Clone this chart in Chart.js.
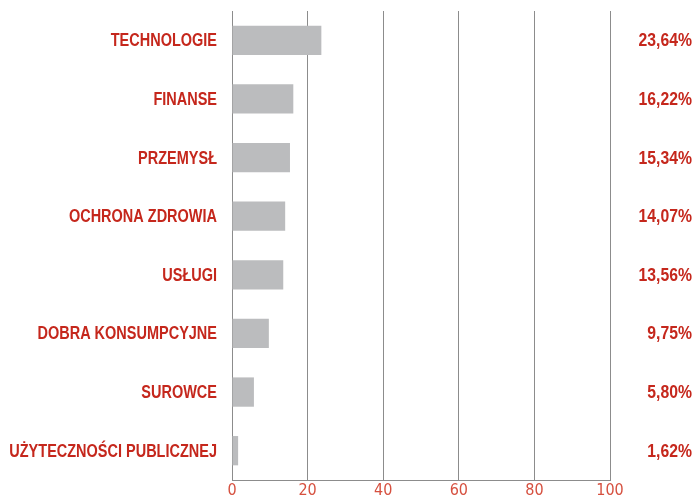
<!DOCTYPE html>
<html>
<head>
<meta charset="utf-8">
<script src="https://cdn.jsdelivr.net/npm/chart.js@4/dist/chart.umd.min.js"></script>
<style>
  html, body { margin: 0; padding: 0; background: #fff; }
  #wrap { width: 696px; height: 497px; }
</style>
</head>
<body>
<div id="wrap"><canvas id="myChart" width="696" height="497"></canvas></div>
<script>
// Sektory i ich udziały (%)
const sectors = ['TECHNOLOGIE', 'FINANSE', 'PRZEMYSŁ', 'OCHRONA ZDROWIA', 'USŁUGI',
                 'DOBRA KONSUMPCYJNE', 'SUROWCE', 'UŻYTECZNOŚCI PUBLICZNEJ'];
const shares  = [23.64, 16.22, 15.34, 14.07, 13.56, 9.75, 5.80, 1.62];
const xTicks  = [0, 20, 40, 60, 80, 100];

const RED        = '#c5271c';
const TICK_RED   = '#d6503f';
const LABEL_FONT = '"Liberation Sans", Arial, sans-serif';
const TICK_FONT  = '"DejaVu Sans Condensed", "Liberation Sans", sans-serif';
// zwężenie tekstu (oryginał ma font condensed)
const LABEL_SQUEEZE = 0.805;
const VALUE_SQUEEZE = 0.875;

function drawSqueezed(ctx, txt, xRight, y, k) {
  ctx.save();
  ctx.scale(k, 1);
  ctx.fillText(txt, xRight / k, y);
  ctx.restore();
}

// napisy kategorii po lewej i wartości po prawej
const sideLabels = {
  id: 'sideLabels',
  afterDraw(chart) {
    const ctx = chart.ctx;
    const y = chart.scales.y;
    const x = chart.scales.x;
    ctx.save();
    ctx.font = 'bold 18px ' + LABEL_FONT;
    ctx.fillStyle = RED;
    ctx.textAlign = 'right';
    ctx.textBaseline = 'middle';
    shares.forEach((v, i) => {
      const py = y.getPixelForValue(i) + 1;
      drawSqueezed(ctx, sectors[i], x.left - 15, py, LABEL_SQUEEZE);
      const txt = v.toFixed(2).replace('.', ',') + '%';
      drawSqueezed(ctx, txt, chart.width - 4, py, VALUE_SQUEEZE);
    });
    ctx.restore();
  }
};

const ctx = document.getElementById('myChart').getContext('2d');
new Chart(ctx, {
  type: 'bar',
  data: {
    labels: sectors,
    datasets: [{
      data: shares,
      backgroundColor: '#bbbcbe',
      borderWidth: 0,
      categoryPercentage: 0.5,
      barPercentage: 1
    }]
  },
  options: {
    indexAxis: 'y',
    responsive: false,
    animation: false,
    layout: { padding: { top: 11, right: 86, left: 0, bottom: 0 } },
    plugins: { legend: { display: false }, tooltip: { enabled: false } },
    scales: {
      x: {
        min: 0, max: 100,
        afterBuildTicks: s => { s.ticks = xTicks.map(v => ({ value: v })); },
        afterFit: s => { s.height = 17; },
        grid: { color: '#8c8c8c', lineWidth: 1, drawTicks: false },
        border: { display: true, color: '#8c8c8c' },
        ticks: { color: TICK_RED, font: { family: TICK_FONT, size: 16 }, padding: 1 }
      },
      y: {
        afterFit: s => { s.width = 232; },
        grid: { display: false },
        border: { display: false },
        ticks: { display: false }
      }
    }
  },
  plugins: [sideLabels]
});
</script>
</body>
</html>
